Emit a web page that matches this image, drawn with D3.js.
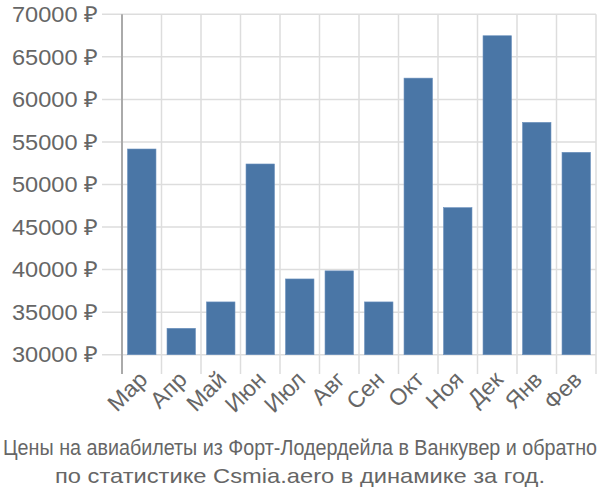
<!DOCTYPE html>
<html><head><meta charset="utf-8">
<script src="https://cdn.jsdelivr.net/npm/d3@7/dist/d3.min.js"></script>
<style>body{margin:0;background:#fff}svg{display:block}</style>
</head><body>
<svg id="c" width="600" height="500"></svg>
<script>
const months = ["Мар","Апр","Май","Июн","Июл","Авг","Сен","Окт","Ноя","Дек","Янв","Фев"];
const prices = [54170, 33100, 36200, 52410, 38900, 39850, 36200, 62500, 47280, 67480, 57300, 53780];
const yTicks = [30000, 35000, 40000, 45000, 50000, 55000, 60000, 65000, 70000];
const titleLines = ["Цены на авиабилеты из Форт-Лодердейла в Ванкувер и обратно","по статистике Csmia.aero в динамике за год."];

const svg = d3.select("#c");
const L = 122, R = 596, T = 14.3, B = 354.7;
const font = "'Liberation Sans', Arial, sans-serif";
const x = d3.scaleBand().domain(months).range([L, R]).paddingInner(0.28).paddingOuter(0.14);
const y = d3.scaleLinear().domain([30000, 70000]).range([B, T]);
const step = x.step();

// horizontal gridlines
svg.append("g").selectAll("line").data(yTicks).join("line")
  .attr("x1", 102).attr("x2", R).attr("y1", d => y(d)).attr("y2", d => y(d))
  .attr("stroke", "#dddddd").attr("stroke-width", 1.5);
// vertical gridlines
const vb = months.map(m => x(m) - step * 0.14).concat([R]);
svg.append("g").selectAll("line").data(vb.slice(1)).join("line")
  .attr("x1", d => d).attr("x2", d => d).attr("y1", T).attr("y2", 374)
  .attr("stroke", "#dddddd").attr("stroke-width", 1.5);

// bars
svg.append("g").selectAll("rect").data(months).join("rect")
  .attr("x", m => x(m)).attr("width", x.bandwidth())
  .attr("y", (m, i) => y(prices[i])).attr("height", (m, i) => B - y(prices[i]))
  .attr("fill", "#4a76a6").attr("stroke", "#6a90bd").attr("stroke-width", 0.6);

// y axis line
svg.append("line").attr("x1", L).attr("x2", L).attr("y1", T).attr("y2", 374)
  .attr("stroke", "#aaaaaa").attr("stroke-width", 2);

// y labels
svg.append("g").selectAll("text").data(yTicks).join("text")
  .attr("x", 98).attr("y", d => y(d)).attr("dy", "0.35em")
  .attr("text-anchor", "end").attr("font-family", font).attr("font-size", 22)
  .attr("textLength", 86).attr("lengthAdjust", "spacingAndGlyphs")
  .attr("fill", "#666").text(d => d + " ₽");

// x labels
svg.append("g").selectAll("text").data(months).join("text")
  .attr("text-anchor", "end").attr("font-family", font).attr("font-size", 23)
  .attr("fill", "#666")
  .attr("transform", m => `translate(${x(m) + x.bandwidth() / 2 + 7},${381}) rotate(-45)`)
  .text(m => m);

// title
svg.append("text").attr("x", 300).attr("y", 455).attr("text-anchor", "middle")
  .attr("font-family", font).attr("font-size", 22).attr("fill", "#666")
  .attr("textLength", 594).attr("lengthAdjust", "spacingAndGlyphs").text(titleLines[0]);
svg.append("text").attr("x", 300).attr("y", 483).attr("text-anchor", "middle")
  .attr("font-family", font).attr("font-size", 21).attr("fill", "#666")
  .attr("textLength", 490).attr("lengthAdjust", "spacingAndGlyphs").text(titleLines[1]);
</script>
</body></html>
